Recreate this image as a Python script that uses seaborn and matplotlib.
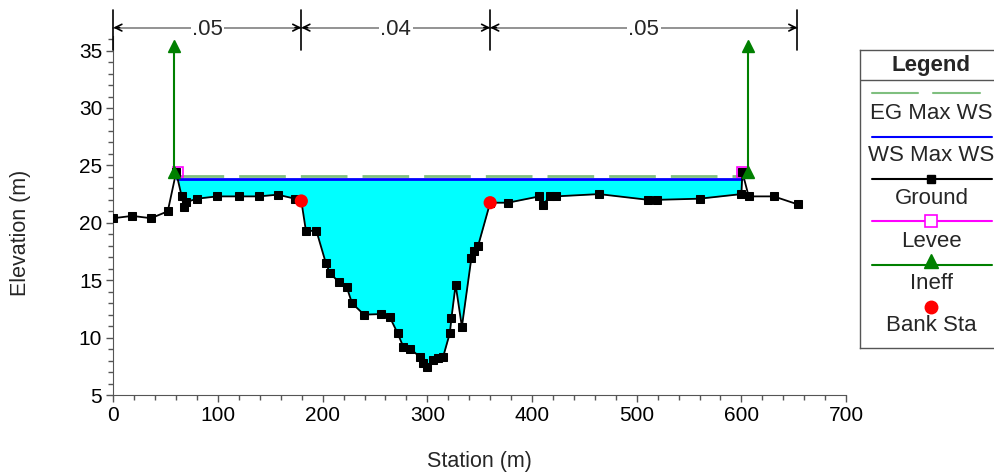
import numpy as np
import pandas as pd
import matplotlib
matplotlib.use("Agg")
import matplotlib.pyplot as plt
import seaborn as sns

# --- data ---
station = [0, 18, 36, 52, 60, 65.3, 67.5, 69.4, 80, 99, 120, 139, 157, 173.5,
           179.6, 184, 194, 203, 207, 216, 223, 228, 239.5, 256, 264, 271.5,
           277, 283.5, 293, 296, 300, 305, 310, 315, 321.5, 323, 327, 333,
           342, 344.5, 348.5, 360, 377, 407, 410.5, 417, 422.5, 464, 511,
           519.5, 560, 600, 601, 607, 631, 654]
elevation = [20.4, 20.6, 20.4, 21.0, 24.4, 22.3, 21.4, 21.8, 22.1, 22.3, 22.3,
             22.3, 22.45, 22.1, 21.9, 19.3, 19.3, 16.5, 15.6, 14.8, 14.4, 13.0,
             12.0, 12.05, 11.8, 10.4, 9.2, 9.05, 8.3, 7.75, 7.45, 8.05, 8.2,
             8.3, 10.4, 11.7, 14.6, 10.95, 16.9, 17.5, 18.0, 21.75, 21.75,
             22.3, 21.55, 22.3, 22.3, 22.5, 22.0, 22.0, 22.1, 22.5, 24.4,
             22.3, 22.3, 21.6]
ws_elev = 23.8
eg_elev = 24.1
ws_start, ws_end = 60.5, 601
bank_sta = [179.6, 360]
bank_elev = [21.9, 21.75]
levee_sta = [62, 601]
levee_elev = [24.45, 24.45]
ineff_sta = [58, 606.5]
ineff_elev = [24.4, 24.4]
ineff_top = 35.4
n_edges = [0, 179.6, 360, 653.5]
n_values = [".05", ".04", ".05"]

df = pd.DataFrame({"Station": station, "Elevation": elevation})

sns.set_style("ticks")
plt.rcParams["font.family"] = ["Liberation Sans", "DejaVu Sans"]
plt.rcParams["font.size"] = 15

fig = plt.figure(figsize=(9.95, 4.73), dpi=100)
ax = fig.add_axes([0.1139, 0.1649, 0.7364, 0.7597])

# water fill between WS and ground
xs = np.linspace(ws_start, ws_end, 2000)
gi = np.interp(xs, station, elevation)
ax.fill_between(xs, np.minimum(gi, ws_elev), ws_elev, color="#00ffff", lw=0, zorder=1)

# EG and WS lines
ax.plot([ws_start, ws_end], [eg_elev, eg_elev], color="#7fbf7f", lw=2,
        dashes=(16.8, 5.4), zorder=2)
ax.plot([ws_start, ws_end], [ws_elev, ws_elev], color="#0000ff", lw=2, zorder=3)

# ground
sns.lineplot(data=df, x="Station", y="Elevation", ax=ax, color="black", lw=1.3,
             marker="s", markersize=6, markeredgecolor="black", zorder=4)

# levee
ax.plot(levee_sta, levee_elev, ls="none", marker="s", markersize=7,
        markerfacecolor="none", markeredgecolor="#ff00ff", mew=1.2, zorder=3)

# ineffective flow arrows
for s, e in zip(ineff_sta, ineff_elev):
    ax.plot([s, s], [e, ineff_top], color="#008000", lw=1.5, zorder=5)
    ax.plot([s, s], [e, ineff_top], ls="none", marker="^", markersize=9,
            color="#008000", zorder=5)

# bank stations
sns.scatterplot(x=bank_sta, y=bank_elev, ax=ax, color="#ff0000", s=90,
                edgecolor="none", zorder=6)

# Manning's n dimension lines
ybar = 37.0
for xe in n_edges:
    ax.plot([xe, xe], [35.05, 38.5], color="black", lw=1.2, clip_on=False, zorder=6)
for i, lab in enumerate(n_values):
    x0, x1 = n_edges[i], n_edges[i + 1]
    ax.plot([x0, x1], [ybar, ybar], color="#808080", lw=1.2, clip_on=False)
    for tip, tail in [(x0, x0 + 6), (x1, x1 - 6)]:
        ax.annotate("", xy=(tip, ybar), xytext=(tail, ybar),
                    arrowprops=dict(arrowstyle="->", color="black", lw=1.2,
                                    shrinkA=0, shrinkB=0, mutation_scale=12),
                    annotation_clip=False)
    ax.text((x0 + x1) / 2, ybar - 0.15, lab, ha="center", va="center", fontsize=16,
            bbox=dict(facecolor="white", edgecolor="none", pad=1.0), clip_on=False)

ax.set_xlim(0, 700)
ax.set_ylim(5, 36.3)
ax.set_xticks(range(0, 701, 100))
ax.set_xticks(range(0, 701, 20), minor=True)
ax.set_yticks(range(5, 36, 5))
ax.set_yticks(range(5, 37, 1), minor=True)
ax.tick_params(which="major", length=5, width=1, color="#555555", labelsize=15,
               labelcolor="black", pad=3)
ax.tick_params(which="minor", length=3.5, width=1, color="#555555")
for side in ["top", "right"]:
    ax.spines[side].set_visible(False)
for side in ["left", "bottom"]:
    ax.spines[side].set_color("#555555")
ax.set_xlabel("Station (m)", fontsize=15.5)
ax.set_ylabel("Elevation (m)", fontsize=15.5)
ax.xaxis.set_label_coords(0.5, -0.157)
ax.yaxis.set_label_coords(-0.113, 0.451)

# custom legend panel, coordinates in pixels
lg = fig.add_axes([860 / 995, 125 / 473, 140 / 995, 298 / 473])
lg.set_xlim(860, 1000)
lg.set_ylim(348, 50)
lg.set_xticks([])
lg.set_yticks([])
for sp in lg.spines.values():
    sp.set_color("#555555")
    sp.set_linewidth(1)
lg.spines["right"].set_visible(False)
cx = 931.5
fs = 16
lg.text(cx, 65, "Legend", ha="center", va="center", fontsize=fs, fontweight="bold")
lg.plot([860, 1000], [80, 80], color="#555555", lw=1)
lg.plot([872, 918], [93.3, 93.3], color="#7fbf7f", lw=1.5)
lg.plot([933, 980], [93.3, 93.3], color="#7fbf7f", lw=1.5)
lg.text(cx, 113.5, "EG Max WS", ha="center", va="center", fontsize=fs)
lg.plot([872, 992], [136.7, 136.7], color="#0000ff", lw=1.5)
lg.text(cx, 155, "WS Max WS", ha="center", va="center", fontsize=fs)
lg.plot([872, 992], [179, 179], color="black", lw=1.5)
lg.plot([cx], [179], marker="s", color="black", markersize=6)
lg.text(cx, 198.5, "Ground", ha="center", va="center", fontsize=fs)
lg.plot([872, 992], [220.7, 220.7], color="#ff00ff", lw=1.5)
lg.plot([cx], [220.7], marker="s", markersize=9, markerfacecolor="white",
        markeredgecolor="#ff00ff", mew=1.2)
lg.text(cx, 241.7, "Levee", ha="center", va="center", fontsize=fs)
lg.plot([872, 992], [265, 265], color="#008000", lw=1.5)
lg.plot([cx], [261], marker="^", color="#008000", markersize=10)
lg.text(cx, 283.5, "Ineff", ha="center", va="center", fontsize=fs)
lg.plot([cx], [306.7], marker="o", color="#ff0000", markersize=9)
lg.text(cx, 325, "Bank Sta", ha="center", va="center", fontsize=fs)

fig.savefig("out.png", dpi=100)
